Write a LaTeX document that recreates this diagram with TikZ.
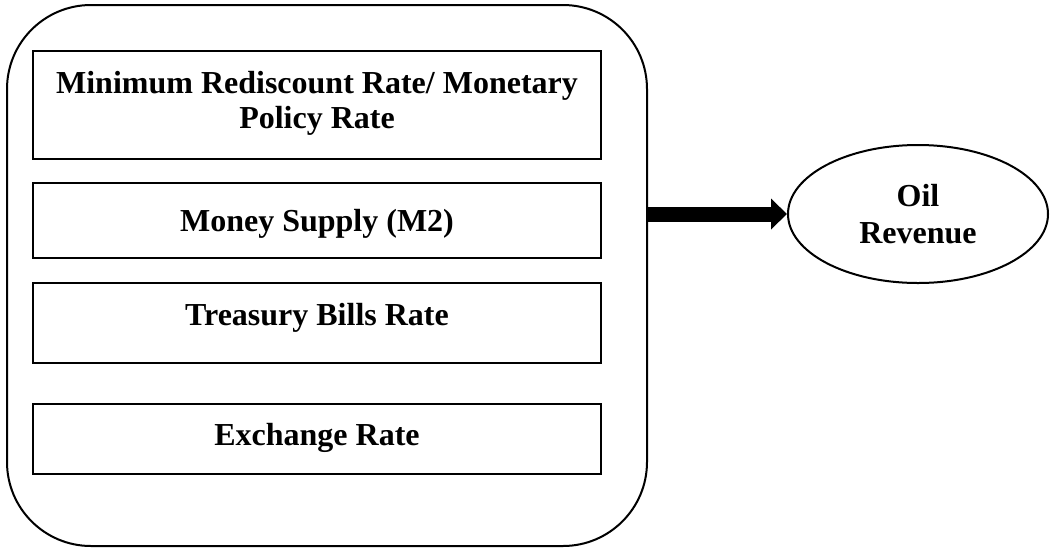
\documentclass[tikz,border=0pt]{standalone}
\usepackage{fontspec}
\setmainfont{Liberation Serif}
\usetikzlibrary{shapes.geometric,arrows.meta,positioning}

\tikzset{
  panel/.style={draw, line width=1pt, rounded corners=42pt, inner sep=0pt,
    minimum width=320pt, minimum height=270.5pt},
  cell/.style={draw, line width=1.2pt},
  lbl/.style={font=\fontsize{16}{17.5}\selectfont\bfseries, align=center, inner sep=0pt},
  outcome/.style={ellipse, draw, line width=1pt, inner sep=0pt,
    minimum width=130pt, minimum height=69pt,
    font=\fontsize{16}{18.5}\selectfont\bfseries, align=center},
  flow/.style={line width=7.5pt, -{Triangle[length=8pt,width=15pt]}}
}

\begin{document}
\begin{tikzpicture}[x=0.5pt,y=-0.5pt]
        \useasboundingbox (0,0) rectangle (1055,547);

        \node[panel] (frame) at (327,275.5) {};

        \draw[cell] (33,51) rectangle (601,159);
        \draw[cell] (33,183) rectangle (601,258);
        \draw[cell] (33,283) rectangle (601,363);
        \draw[cell] (33,404) rectangle (601,474);

        \node[lbl] (mrr) at (317,103) {Minimum Rediscount Rate/ Monetary\\Policy Rate};
        \node[lbl, anchor=base] (m2) at (317,231) {Money Supply (M2)};
        \node[lbl, anchor=base] (tbr) at (317,325) {Treasury Bills Rate};
        \node[lbl, anchor=base] (exr) at (317,445) {Exchange Rate};

        \node[outcome] (oil) at (918,214) {Oil\\Revenue};

        \draw[flow] (frame.east |- oil.west) -- (oil.west);
    \end{tikzpicture}
\end{document}
